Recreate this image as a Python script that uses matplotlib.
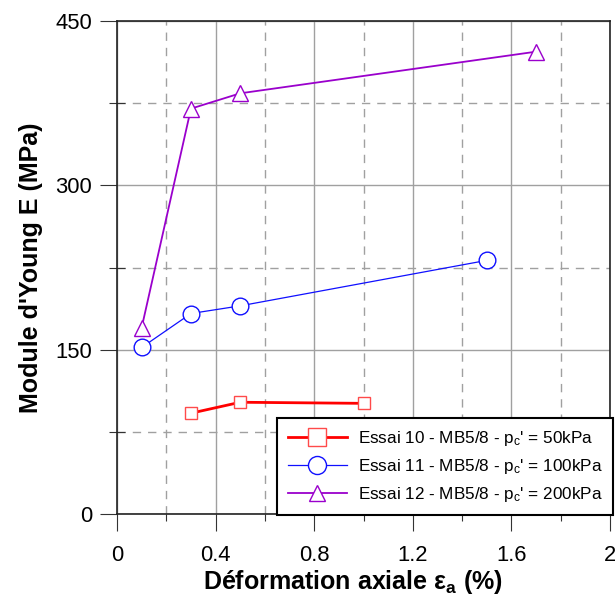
import matplotlib
matplotlib.use("Agg")
import matplotlib.pyplot as plt
from matplotlib.ticker import MultipleLocator

plt.rcParams['font.family'] = ['Liberation Sans', 'DejaVu Sans']
plt.rcParams['mathtext.fontset'] = 'custom'
plt.rcParams['mathtext.rm'] = 'Liberation Sans'
plt.rcParams['mathtext.bf'] = 'Liberation Sans:bold'
plt.rcParams['mathtext.it'] = 'Liberation Sans:italic'

# Data
x10 = [0.3, 0.5, 1.0]
y10 = [92, 102, 101]
x11 = [0.1, 0.3, 0.5, 1.5]
y11 = [152, 183, 190, 231.5]
x12 = [0.1, 0.3, 0.5, 1.7]
y12 = [170, 370, 384, 422]
labels = [r"Essai 10 - MB5/8 - p$_\mathregular{c}$' = 50kPa",
          r"Essai 11 - MB5/8 - p$_\mathregular{c}$' = 100kPa",
          r"Essai 12 - MB5/8 - p$_\mathregular{c}$' = 200kPa"]
xticks = [0, 0.4, 0.8, 1.2, 1.6, 2]
xticklabels = ['0', '0.4', '0.8', '1.2', '1.6', '2']
yticks = [0, 150, 300, 450]

fig = plt.figure(figsize=(6.15, 6.0), dpi=100)
ax = fig.add_axes([117/615, 86/600, (610-117)/615, (514-21)/600])

red = '#ff0000'
blue = '#1010ff'
purple = '#9a00cc'

ax.plot(x10, y10, '-', color=red, lw=2.0, marker='s', ms=8.8,
        mfc='white', mec='#ff4a4a', mew=1.0, label=labels[0], zorder=5)
ax.plot(x11, y11, '-', color=blue, lw=0.9, marker='o', ms=12,
        mfc='white', mec=blue, mew=1.0, label=labels[1], zorder=5)
ax.plot(x12, y12, '-', color=purple, lw=1.3, marker='^', ms=11,
        mfc='white', mec=purple, mew=1.0, label=labels[2], zorder=5)

ax.set_xlim(0, 2)
ax.set_ylim(0, 450)
ax.set_xticks(xticks)
ax.set_xticklabels(xticklabels)
ax.set_yticks(yticks)
ax.xaxis.set_minor_locator(MultipleLocator(0.2))
ax.yaxis.set_minor_locator(MultipleLocator(75))

ax.grid(which='major', color='#a0a0a0', lw=1.0, ls='-')
ax.grid(which='minor', color='#a0a0a0', lw=1.0, ls=(0, (6, 5)))
ax.set_axisbelow(True)

ax.tick_params(which='major', direction='out', length=12.5, width=0.8,
               labelsize=15.8, color='#333333')
ax.tick_params(axis='y', which='major', pad=5.5)
ax.tick_params(axis='x', which='major', pad=10)
ax.tick_params(axis='y', which='minor', direction='inout', length=12, width=0.8, color='#333333')
ax.tick_params(axis='x', which='minor', direction='out', length=5, width=0.8, color='#333333')

for s in ax.spines.values():
    s.set_linewidth(1.2)
    s.set_color('#222222')

ax.set_xlabel(r"Déformation axiale ε$_\mathbf{a}$ (%)", fontsize=18,
              fontweight='bold', labelpad=1, x=0.479)
ax.set_ylabel("Module d'Young E (MPa)", fontsize=18, fontweight='bold',
              labelpad=9)

leg = ax.legend(loc='upper left', bbox_to_anchor=(277/615, 182/600),
                bbox_transform=fig.transFigure, borderaxespad=0,
                fontsize=12.3, handlelength=3.5, handletextpad=0.6,
                labelspacing=0.55, borderpad=0.62, fancybox=False,
                framealpha=1, edgecolor='black')
leg.get_frame().set_linewidth(1.5)
leg.set_zorder(10)
sizes = [13.5, 13, 11.5]
for h, s in zip(leg.legend_handles, sizes):
    h.set_markersize(s)

fig.savefig('out.png', dpi=100)
